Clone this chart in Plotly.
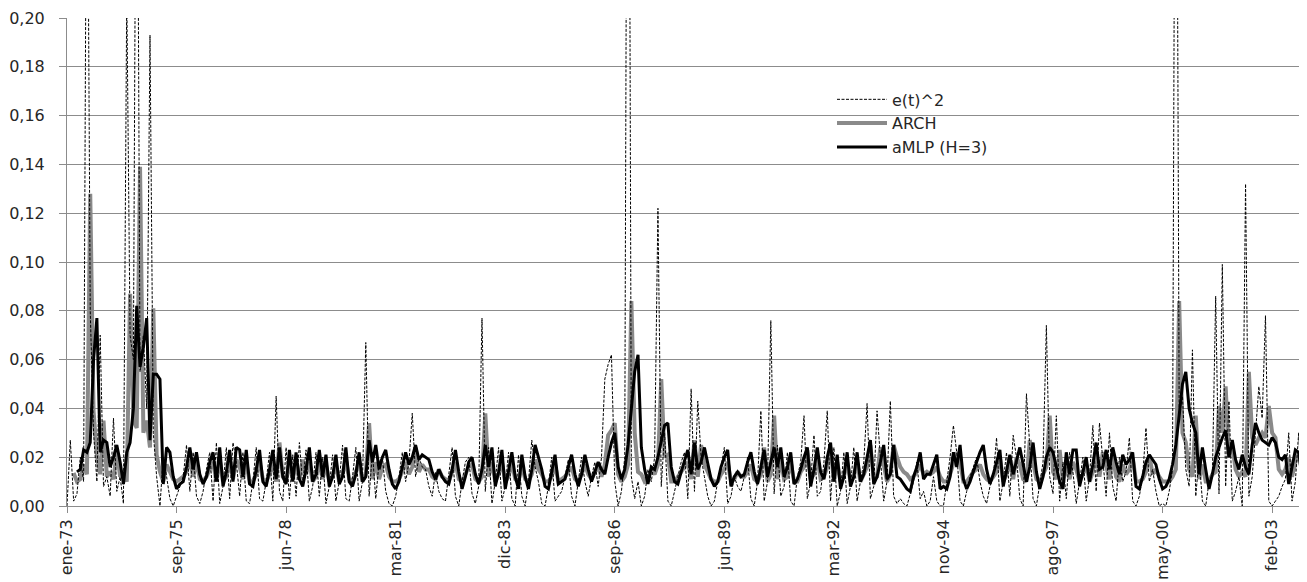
import plotly.graph_objects as go

# ---- data (monthly, ene-73 ... ene-04), one row per year ----
e2_sq = [
    0.000, 0.027, 0.002, 0.005, 0.020, 0.010, 0.320, 0.080, 0.030, 0.010, 0.070, 0.008,
    0.012, 0.004, 0.036, 0.006, 0.012, 0.001, 0.210, 0.070, 0.060, 0.350, 0.055, 0.070,
    0.040, 0.193, 0.030, 0.012, 0.000, 0.020, 0.012, 0.003, 0.000, 0.004, 0.008, 0.012,
    0.025, 0.006, 0.022, 0.004, 0.001, 0.006, 0.015, 0.022, 0.002, 0.026, 0.001, 0.008,
    0.024, 0.003, 0.026, 0.018, 0.004, 0.022, 0.002, 0.001, 0.010, 0.024, 0.003, 0.002,
    0.010, 0.022, 0.002, 0.045, 0.006, 0.002, 0.024, 0.003, 0.021, 0.004, 0.026, 0.009,
    0.023, 0.002, 0.008, 0.022, 0.004, 0.020, 0.001, 0.008, 0.021, 0.002, 0.010, 0.025,
    0.003, 0.002, 0.012, 0.024, 0.002, 0.010, 0.067, 0.004, 0.022, 0.003, 0.018, 0.020,
    0.006, 0.001, 0.000, 0.004, 0.012, 0.022, 0.010, 0.018, 0.038, 0.012, 0.020, 0.016,
    0.015, 0.008, 0.004, 0.014, 0.006, 0.003, 0.002, 0.012, 0.024, 0.004, 0.000, 0.010,
    0.018, 0.020, 0.005, 0.001, 0.008, 0.077, 0.006, 0.024, 0.001, 0.010, 0.024, 0.002,
    0.008, 0.022, 0.003, 0.000, 0.021, 0.004, 0.000, 0.010, 0.027, 0.016, 0.010, 0.001,
    0.000, 0.008, 0.020, 0.002, 0.004, 0.006, 0.012, 0.019, 0.004, 0.000, 0.010, 0.020,
    0.010, 0.004, 0.012, 0.018, 0.008, 0.020, 0.052, 0.058, 0.062, 0.010, 0.000, 0.006,
    0.020, 0.450, 0.012, 0.003, 0.010, 0.000, 0.004, 0.015, 0.010, 0.020, 0.122, 0.008,
    0.030, 0.002, 0.000, 0.006, 0.012, 0.018, 0.022, 0.003, 0.048, 0.006, 0.043, 0.020,
    0.012, 0.004, 0.000, 0.002, 0.010, 0.016, 0.024, 0.001, 0.004, 0.012, 0.008, 0.006,
    0.012, 0.020, 0.003, 0.000, 0.010, 0.039, 0.002, 0.010, 0.076, 0.005, 0.025, 0.004,
    0.008, 0.022, 0.002, 0.000, 0.012, 0.018, 0.037, 0.003, 0.010, 0.029, 0.004, 0.006,
    0.018, 0.039, 0.002, 0.024, 0.000, 0.006, 0.022, 0.001, 0.008, 0.024, 0.002, 0.010,
    0.018, 0.042, 0.003, 0.008, 0.039, 0.020, 0.002, 0.010, 0.043, 0.004, 0.001, 0.003,
    0.001, 0.000, 0.005, 0.010, 0.018, 0.003, 0.006, 0.000, 0.002, 0.012, 0.002, 0.000,
    0.000, 0.010, 0.020, 0.033, 0.022, 0.002, 0.000, 0.006, 0.012, 0.016, 0.020, 0.010,
    0.004, 0.001, 0.008, 0.012, 0.028, 0.002, 0.010, 0.022, 0.004, 0.029, 0.020, 0.003,
    0.000, 0.046, 0.024, 0.003, 0.000, 0.010, 0.018, 0.074, 0.012, 0.005, 0.037, 0.002,
    0.018, 0.003, 0.022, 0.014, 0.001, 0.010, 0.020, 0.002, 0.012, 0.033, 0.006, 0.034,
    0.020, 0.004, 0.030, 0.008, 0.002, 0.020, 0.010, 0.014, 0.028, 0.002, 0.000, 0.004,
    0.012, 0.032, 0.010, 0.015, 0.006, 0.000, 0.001, 0.000, 0.006, 0.015, 0.400, 0.040,
    0.045, 0.015, 0.008, 0.064, 0.004, 0.020, 0.002, 0.000, 0.010, 0.012, 0.086, 0.005,
    0.099, 0.008, 0.043, 0.002, 0.006, 0.012, 0.000, 0.132, 0.004, 0.012, 0.030, 0.049,
    0.036, 0.078, 0.002, 0.000, 0.002, 0.004, 0.008, 0.011, 0.030, 0.002, 0.010, 0.030,
    0.005,
]

arch = [
    None, None, 0.0135, 0.010, 0.011, 0.017, 0.013, 0.128, 0.039, 0.021, 0.013, 0.035,
    0.012, 0.014, 0.011, 0.023, 0.012, 0.014, 0.010, 0.087, 0.035, 0.032, 0.139, 0.030,
    0.035, 0.024, 0.081, 0.021, 0.014, 0.010, 0.017, 0.014, 0.011, 0.010, 0.011, 0.012,
    0.014, 0.019, 0.012, 0.018, 0.011, 0.010, 0.012, 0.015, 0.018, 0.010, 0.019, 0.010,
    0.012, 0.018, 0.011, 0.019, 0.016, 0.011, 0.018, 0.010, 0.010, 0.013, 0.018, 0.011,
    0.010, 0.013, 0.018, 0.010, 0.026, 0.012, 0.010, 0.018, 0.011, 0.017, 0.011, 0.019,
    0.013, 0.018, 0.010, 0.012, 0.018, 0.011, 0.017, 0.010, 0.012, 0.017, 0.010, 0.013,
    0.019, 0.011, 0.010, 0.014, 0.018, 0.010, 0.013, 0.034, 0.011, 0.018, 0.011, 0.016,
    0.017, 0.012, 0.010, 0.010, 0.011, 0.014, 0.018, 0.013, 0.016, 0.024, 0.014, 0.017,
    0.015, 0.015, 0.012, 0.011, 0.015, 0.012, 0.011, 0.010, 0.014, 0.018, 0.011, 0.010,
    0.013, 0.016, 0.017, 0.011, 0.010, 0.012, 0.038, 0.012, 0.018, 0.010, 0.013, 0.018,
    0.010, 0.012, 0.018, 0.011, 0.010, 0.017, 0.011, 0.010, 0.013, 0.019, 0.015, 0.013,
    0.010, 0.010, 0.012, 0.017, 0.010, 0.011, 0.012, 0.014, 0.016, 0.011, 0.010, 0.013,
    0.017, 0.013, 0.011, 0.014, 0.016, 0.012, 0.017, 0.029, 0.031, 0.034, 0.013, 0.010,
    0.012, 0.017, 0.084, 0.030, 0.014, 0.013, 0.010, 0.011, 0.015, 0.013, 0.017, 0.052,
    0.020, 0.021, 0.010, 0.010, 0.012, 0.014, 0.016, 0.018, 0.011, 0.027, 0.012, 0.025,
    0.017, 0.014, 0.011, 0.010, 0.010, 0.013, 0.015, 0.018, 0.010, 0.011, 0.014, 0.012,
    0.012, 0.014, 0.017, 0.011, 0.010, 0.013, 0.024, 0.010, 0.013, 0.037, 0.011, 0.019,
    0.011, 0.012, 0.018, 0.010, 0.010, 0.014, 0.016, 0.023, 0.011, 0.013, 0.020, 0.011,
    0.012, 0.016, 0.024, 0.010, 0.018, 0.010, 0.012, 0.018, 0.010, 0.012, 0.018, 0.010,
    0.013, 0.016, 0.025, 0.011, 0.012, 0.024, 0.017, 0.010, 0.013, 0.025, 0.020, 0.016,
    0.014, 0.013, 0.011, 0.012, 0.014, 0.017, 0.013, 0.014, 0.013, 0.014, 0.016, 0.012,
    0.010, 0.010, 0.013, 0.017, 0.022, 0.018, 0.010, 0.010, 0.012, 0.014, 0.015, 0.017,
    0.013, 0.011, 0.010, 0.012, 0.014, 0.020, 0.010, 0.013, 0.018, 0.011, 0.020, 0.017,
    0.011, 0.010, 0.027, 0.018, 0.011, 0.010, 0.013, 0.016, 0.037, 0.014, 0.011, 0.023,
    0.010, 0.016, 0.011, 0.018, 0.015, 0.010, 0.013, 0.017, 0.010, 0.014, 0.022, 0.012,
    0.022, 0.017, 0.011, 0.021, 0.012, 0.010, 0.017, 0.013, 0.015, 0.020, 0.010, 0.010,
    0.011, 0.014, 0.021, 0.013, 0.015, 0.012, 0.010, 0.010, 0.010, 0.012, 0.015, 0.084,
    0.030, 0.026, 0.015, 0.012, 0.037, 0.011, 0.017, 0.010, 0.010, 0.013, 0.014, 0.041,
    0.030, 0.049, 0.020, 0.025, 0.015, 0.012, 0.014, 0.012, 0.055, 0.028, 0.025, 0.028,
    0.030, 0.028, 0.041, 0.030, 0.028, 0.015, 0.013, 0.015, 0.020, 0.012, 0.018, 0.022,
    0.014,
]

amlp = [
    None, None, None, 0.014, 0.015, 0.023, 0.022, 0.026, 0.060, 0.077, 0.022, 0.027,
    0.026, 0.016, 0.020, 0.025, 0.018, 0.009, 0.022, 0.026, 0.040, 0.082, 0.057, 0.065,
    0.077, 0.027, 0.054, 0.054, 0.052, 0.009, 0.024, 0.022, 0.012, 0.007, 0.009, 0.010,
    0.016, 0.024, 0.015, 0.022, 0.013, 0.009, 0.012, 0.018, 0.022, 0.010, 0.024, 0.008,
    0.014, 0.023, 0.010, 0.024, 0.023, 0.012, 0.023, 0.009, 0.008, 0.015, 0.023, 0.010,
    0.008, 0.015, 0.023, 0.011, 0.024, 0.012, 0.009, 0.023, 0.010, 0.022, 0.011, 0.008,
    0.015, 0.024, 0.010, 0.013, 0.023, 0.012, 0.021, 0.008, 0.012, 0.021, 0.009, 0.012,
    0.024, 0.010, 0.008, 0.013, 0.022, 0.010, 0.012, 0.027, 0.018, 0.025, 0.015, 0.020,
    0.023, 0.015, 0.009, 0.007, 0.010, 0.016, 0.022, 0.017, 0.020, 0.025, 0.019, 0.021,
    0.020, 0.019, 0.014, 0.011, 0.015, 0.012, 0.010, 0.009, 0.015, 0.023, 0.014, 0.007,
    0.012, 0.018, 0.020, 0.013, 0.009, 0.015, 0.025, 0.016, 0.024, 0.008, 0.014, 0.023,
    0.007, 0.015, 0.022, 0.012, 0.007, 0.021, 0.012, 0.007, 0.015, 0.025, 0.020, 0.015,
    0.008, 0.007, 0.014, 0.021, 0.009, 0.010, 0.011, 0.016, 0.021, 0.013, 0.008, 0.013,
    0.021, 0.015, 0.010, 0.014, 0.018, 0.015, 0.013, 0.020, 0.026, 0.030, 0.016, 0.011,
    0.015, 0.025, 0.040, 0.055, 0.062, 0.024, 0.015, 0.009, 0.016, 0.015, 0.020, 0.026,
    0.033, 0.034, 0.016, 0.010, 0.009, 0.014, 0.019, 0.023, 0.013, 0.026, 0.015, 0.018,
    0.024, 0.018, 0.011, 0.008, 0.010, 0.016, 0.020, 0.023, 0.008, 0.012, 0.014, 0.012,
    0.013, 0.018, 0.022, 0.014, 0.009, 0.016, 0.023, 0.012, 0.018, 0.024, 0.016, 0.024,
    0.012, 0.016, 0.022, 0.009, 0.011, 0.015, 0.020, 0.024, 0.008, 0.015, 0.024, 0.014,
    0.011, 0.020, 0.026, 0.010, 0.021, 0.007, 0.012, 0.022, 0.008, 0.012, 0.022, 0.010,
    0.013, 0.020, 0.027, 0.009, 0.012, 0.018, 0.025, 0.011, 0.013, 0.025, 0.012, 0.011,
    0.009, 0.007, 0.006, 0.012, 0.016, 0.022, 0.011, 0.013, 0.013, 0.017, 0.021, 0.007,
    0.008, 0.007, 0.012, 0.022, 0.016, 0.025, 0.011, 0.007, 0.010, 0.014, 0.018, 0.022,
    0.025, 0.015, 0.009, 0.013, 0.018, 0.023, 0.008, 0.014, 0.021, 0.013, 0.018, 0.024,
    0.017, 0.010, 0.016, 0.026, 0.014, 0.007, 0.012, 0.020, 0.024, 0.022, 0.016, 0.010,
    0.007, 0.022, 0.013, 0.023, 0.023, 0.008, 0.014, 0.020, 0.010, 0.017, 0.026, 0.015,
    0.016, 0.023, 0.015, 0.024, 0.018, 0.013, 0.021, 0.017, 0.019, 0.022, 0.008, 0.007,
    0.012, 0.018, 0.021, 0.019, 0.017, 0.011, 0.007, 0.008, 0.011, 0.017, 0.025, 0.037,
    0.050, 0.055, 0.040, 0.034, 0.030, 0.013, 0.024, 0.015, 0.007, 0.013, 0.020, 0.024,
    0.028, 0.031, 0.020, 0.027, 0.019, 0.015, 0.021, 0.016, 0.013, 0.025, 0.034, 0.030,
    0.027, 0.026, 0.025, 0.028, 0.026, 0.020, 0.019, 0.021, 0.009, 0.016, 0.023, 0.022,
    0.012,
]

tick_labels = ["ene-73", "sep-75", "jun-78", "mar-81", "dic-83", "sep-86",
               "jun-89", "mar-92", "nov-94", "ago-97", "may-00", "feb-03"]
tick_step = 33  # categories between labelled ticks

x = list(range(len(e2_sq)))
tickvals = [k * tick_step for k in range(len(tick_labels))]

FONT = "DejaVu Sans"
TXT = "#262626"
GRID = "#8c8c8c"
# the page body adds an 8px offset, so the figure is 8px smaller on each axis
FIG_W, FIG_H = 1299, 574
L, R, T, B = 59, 5, 10, 76
PW = FIG_W - L - R

fig = go.Figure()
fig.add_trace(go.Scatter(
    x=x, y=arch, name="ARCH", mode="lines", legendrank=2,
    line=dict(color="#8a8a8a", width=4), connectgaps=False))
fig.add_trace(go.Scatter(
    x=x, y=e2_sq, name="e(t)^2", mode="lines", legendrank=1,
    line=dict(color="#000000", width=1, dash="3px,1.5px")))
fig.add_trace(go.Scatter(
    x=x, y=amlp, name="aMLP (H=3)", mode="lines", legendrank=3,
    line=dict(color="#000000", width=3), connectgaps=False))

# white legend area hiding the grid behind the legend
fig.add_shape(type="rect", xref="paper", yref="y",
              x0=740 / PW, x1=956 / PW, y0=0.131, y1=0.173,
              fillcolor="white", line=dict(width=0), layer="between")

fig.update_layout(
    width=FIG_W, height=FIG_H,
    margin=dict(l=L, r=R, t=T, b=B, autoexpand=False),
    paper_bgcolor="white", plot_bgcolor="white",
    separators=",.",
    font=dict(family=FONT, size=16, color=TXT),
    showlegend=True,
    legend=dict(x=765 / PW, y=0.868, xanchor="left", yanchor="top",
                bgcolor="rgba(0,0,0,0)", font=dict(family=FONT, size=16, color=TXT),
                tracegroupgap=0, itemwidth=50),
    xaxis=dict(range=[0, len(x) - 1], tickmode="array", tickvals=tickvals,
               ticktext=tick_labels, tickangle=-90, ticks="outside", ticklen=6,
               tickcolor=GRID, showgrid=False, zeroline=False, showline=True,
               linecolor=GRID, linewidth=1, automargin=False,
               tickfont=dict(family=FONT, size=16, color=TXT)),
    yaxis=dict(range=[0, 0.2], dtick=0.02, tickformat=".2f", ticks="outside",
               ticklen=7, tickcolor=GRID, showgrid=True, gridcolor=GRID,
               gridwidth=1, zeroline=False, showline=True, linecolor=GRID,
               linewidth=1, ticklabelstandoff=11, automargin=False,
               tickfont=dict(family=FONT, size=16, color=TXT)),
)

fig.write_html("out.html")
